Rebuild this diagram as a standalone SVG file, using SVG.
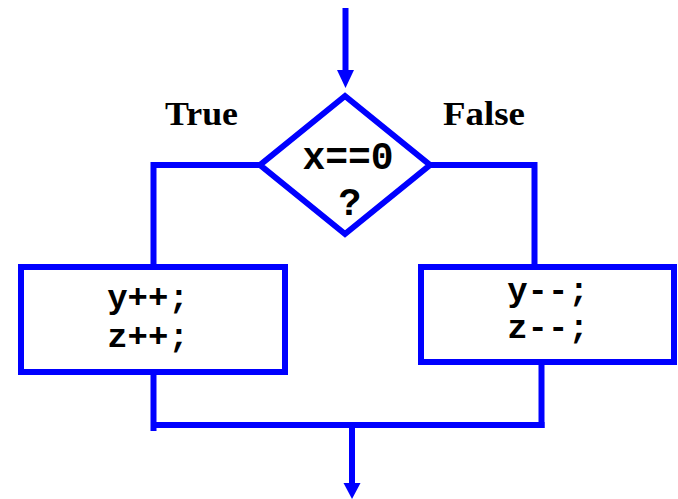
<svg xmlns="http://www.w3.org/2000/svg" width="678" height="499" viewBox="0 0 678 499">
<style>
.ln{fill:none;stroke:#0000FF;stroke-width:6}
.bx{fill:#FFFFFF;stroke:#0000FF;stroke-width:6}
.hd{fill:#0000FF}
.code{font-family:"Liberation Mono","Courier New",monospace;font-weight:bold;fill:#000;text-anchor:middle}
.lbl{font-family:"Liberation Serif","Times New Roman",serif;font-weight:bold;font-size:34px;fill:#000}
</style>
<rect width="678" height="499" fill="#FFFFFF"/>
<g id="connectors">
<line class="ln" x1="345.5" y1="8" x2="345.5" y2="72"/>
<polygon class="hd" points="337,70 354,70 345.5,88"/>
<path class="ln" d="M260 165 H153.5 V267"/>
<path class="ln" d="M430 165 H534.5 V267"/>
<line class="ln" x1="153.5" y1="372" x2="153.5" y2="431"/>
<line class="ln" x1="541.5" y1="362" x2="541.5" y2="428"/>
<line class="ln" x1="153" y1="425" x2="544.5" y2="425"/>
<line class="ln" x1="352" y1="425" x2="352" y2="485"/>
<polygon class="hd" points="343.5,483 360.5,483 352,499"/>
</g>
<g id="decision">
<polygon class="bx" points="345,96 430,165 345,234 260,165"/>
<text class="code" x="348" y="169" font-size="38">x==0</text>
<text class="code" x="350" y="215" font-size="38">?</text>
</g>
<g id="label-true"><text class="lbl" x="165" y="125" textLength="73" lengthAdjust="spacingAndGlyphs">True</text></g>
<g id="label-false"><text class="lbl" x="443" y="125" textLength="82" lengthAdjust="spacingAndGlyphs">False</text></g>
<g id="true-box">
<rect class="bx" x="21" y="267" width="264" height="105"/>
<text class="code" x="148" y="308" font-size="34">y++;</text>
<text class="code" x="148" y="347" font-size="34">z++;</text>
</g>
<g id="false-box">
<rect class="bx" x="421" y="267" width="253" height="95"/>
<text class="code" x="548" y="301" font-size="34">y--;</text>
<text class="code" x="548" y="338" font-size="34">z--;</text>
</g>
</svg>
